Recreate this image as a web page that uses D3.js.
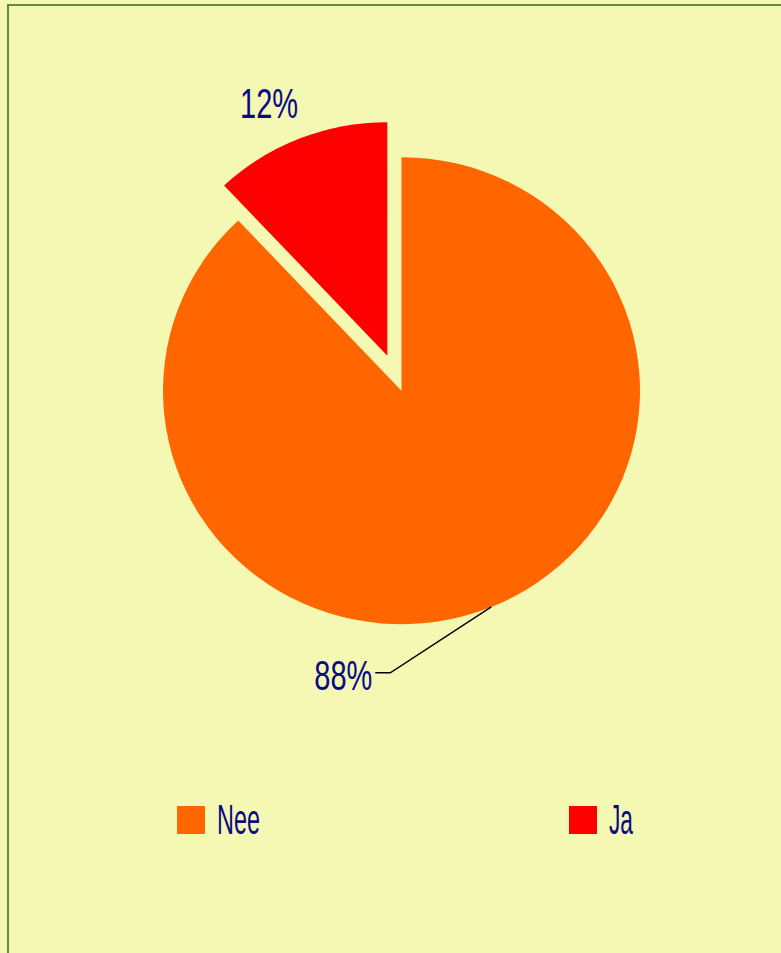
<!DOCTYPE html>
<html>
<head>
<meta charset="utf-8">
<script src="https://cdn.jsdelivr.net/npm/d3@7/dist/d3.min.js"></script>
<style>
  html, body { margin: 0; padding: 0; background: #F5F8B2; }
  svg { display: block; }
</style>
</head>
<body>
<svg id="chart" width="781" height="953"></svg>
<script>
const categories = ["Nee", "Ja"];
const values = [88, 12];
const valueLabels = ["88%", "12%"];
const colors = ["#FF6600", "#FF0000"];
const exploded = [false, true];

const W = 781, H = 953;
const cx = 401.5, cy = 390.7, rx = 238.5, ry = 233.5;
const explodeDist = 38.5;
const fontFam = "'Liberation Sans Narrow', 'Arial Narrow', 'Liberation Sans', sans-serif";

const svg = d3.select("#chart");
svg.append("rect").attr("width", W).attr("height", H).attr("fill", "#F5F8B2");
svg.append("rect")
  .attr("x", 8).attr("y", 5).attr("width", W + 20).attr("height", H + 20)
  .attr("fill", "none").attr("stroke", "#678B35").attr("stroke-width", 2);

const data = categories.map((c, i) => ({ cat: c, value: values[i], label: valueLabels[i], color: colors[i], exploded: exploded[i] }));
const pie = d3.pie().sort(null).value(d => d.value).startAngle(0).endAngle(2 * Math.PI);
const arcs = pie(data);
const arc = d3.arc().innerRadius(0).outerRadius(rx);

const sy = ry / rx;
const g = svg.append("g").attr("transform", `translate(${cx},${cy}) scale(1,${sy})`);

function offsetOf(d) {
  if (!d.data.exploded) return [0, 0];
  const a = (d.startAngle + d.endAngle) / 2;
  return [Math.sin(a) * explodeDist, -Math.cos(a) * explodeDist];
}

g.selectAll("path.slice").data(arcs).join("path")
  .attr("class", "slice")
  .attr("d", arc)
  .attr("fill", d => d.data.color)
  .attr("transform", d => { const o = offsetOf(d); return `translate(${o[0]},${o[1]})`; });

// labels (in page coordinates)
const rimArc = d3.arc().innerRadius(rx).outerRadius(rx);
arcs.forEach(d => {
  const o = offsetOf(d);
  const c = rimArc.centroid(d);
  const px = cx + c[0] + o[0];
  const py = cy + (c[1] + o[1]) * sy;
  if (d.data.exploded) {
    svg.append("text")
      .attr("x", px - 1.5).attr("y", py - 21)
      .attr("text-anchor", "end")
      .attr("font-family", fontFam).attr("font-size", 42)
      .attr("fill", "#0A0A86")
      .attr("textLength", 58).attr("lengthAdjust", "spacingAndGlyphs")
      .text(d.data.label);
  } else {
    const sxp = px + 2, syp = py - 1;
    const ex = sxp - 101, ey = syp + 66;
    svg.append("polyline")
      .attr("points", [[sxp, syp], [ex, ey], [ex - 15, ey]].map(p => p.join(",")).join(" "))
      .attr("fill", "none").attr("stroke", "#000").attr("stroke-width", 1.5);
    svg.append("text")
      .attr("x", ex - 18).attr("y", ey + 17)
      .attr("text-anchor", "end")
      .attr("font-family", fontFam).attr("font-size", 42)
      .attr("fill", "#0A0A86")
      .attr("textLength", 58).attr("lengthAdjust", "spacingAndGlyphs")
      .text(d.data.label);
  }
});

// legend
const legendX = d3.scalePoint().domain(categories).range([177, 569]);
const lg = svg.selectAll("g.legend").data(data).join("g")
  .attr("class", "legend")
  .attr("transform", d => `translate(${legendX(d.cat)},806)`);
lg.append("rect").attr("width", 28).attr("height", 28).attr("fill", d => d.color);
lg.append("text")
  .attr("x", 40).attr("y", 28)
  .attr("font-family", fontFam).attr("font-size", 42)
  .attr("fill", "#0A0A86")
  .attr("textLength", d => d.cat === "Nee" ? 43 : 24)
  .attr("lengthAdjust", "spacingAndGlyphs")
  .text(d => d.cat);
</script>
</body>
</html>
